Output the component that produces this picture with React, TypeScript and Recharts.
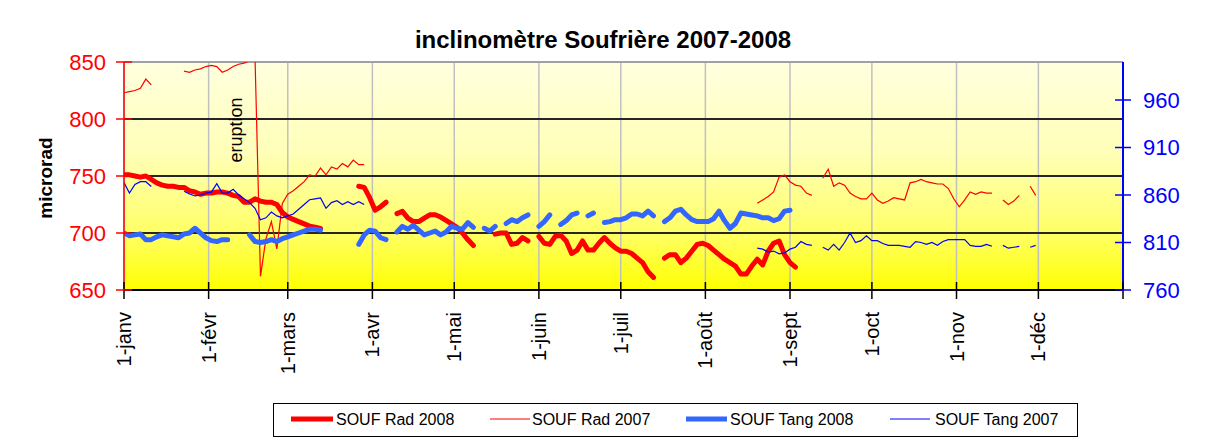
import React from "react";
import { LineChart, Line, XAxis, YAxis, CartesianGrid, ReferenceLine } from "recharts";

const FONT = "'Liberation Sans', Arial, sans-serif";

// jour de l'année (0 = 1er janvier), un point tous les 2 jours
const DAYS = Array.from({ length: 184 }, (_, i) => i * 2);

const MONTH_DAYS = [0, 31, 60, 91, 121, 152, 182, 213, 244, 274, 305, 335, 366];
const MONTH_LABELS = [
  "1-janv", "1-févr", "1-mars", "1-avr", "1-mai", "1-juin",
  "1-juil", "1-août", "1-sept", "1-oct", "1-nov", "1-déc", "",
];

const RAD_TICKS = [650, 700, 750, 800, 850];
const TANG_TICKS = [760, 810, 860, 910, 960];
const GRID_RAD = [700, 750, 800];

// SOUF Rad 2008 (microrad, axe gauche) - 10 valeurs par ligne = 20 jours
const radSouf2008 = [
  751, 751, 750, 749, 750, 747, 744, 742, 741, 741,
  740, 740, 737, 736, 734, 735, 735, 736, 736, 735,
  733, 732, 727, 727, 730, 728, 727, 727, 725, 718,
  714, 712, 710, 708, 706, 705, 704, null, null, null,
  null, null, null, 741, 740, 731, 720, 723, 727, null,
  717, 719, 713, 710, 710, 713, 716, 716, 714, 711,
  708, 705, 700, 694, 689, null, null, null, 699, 700,
  700, 690, 691, 696, 693, null, 697, 691, 690, 697,
  698, 693, 682, 685, 693, 685, 685, 691, 696, 691,
  687, 684, 684, 682, 678, 674, 666, 661, null, 678,
  681, 681, 674, 678, 684, 690, 691, 689, 685, 681,
  677, 674, 671, 664, 664, 671, 677, 672, 684, 691,
  693, 681, 674, 670,
];

// SOUF Rad 2007 (axe gauche)
const radSouf2007 = [
  823, 824, 825, 827, 835, 830, null, null, null, null,
  null, 842, 841, 843, 844, 846, 847, 846, 841, 843,
  846, 848, 849, 851, 854, 662, 695, 710, 686, 726,
  734, 737, 741, 745, 751, 750, 757, 751, 758, 756,
  761, 758, 764, 760, 760, null, null, null, null, null,
  null, null, null, null, null, null, null, null, null, null,
  null, null, null, null, null, null, null, null, null, null,
  null, null, null, null, null, null, null, null, null, null,
  null, null, null, null, null, null, null, null, null, null,
  null, null, null, null, null, null, null, null, null, null,
  null, null, null, null, null, null, null, null, null, null,
  null, null, null, null, null, null, 726, 729, 732, 736,
  749, 751, 745, 742, 741, 735, 733, null, 748, 756,
  741, 744, 742, 735, 732, 730, 730, 735, 729, 726,
  728, 731, 730, 729, 744, 745, 747, 745, 744, 743,
  743, 739, 730, 723, 729, 736, 734, 736, 735, 735,
  null, 729, 725, 728, 733, null, 741, 733,
];

// SOUF Tang 2008 (axe droit)
const tangSouf2008 = [
  820, 817, 818, 819, 813, 813, 816, 818, 817, 816,
  815, 819, 820, 825, 820, 815, 812, 811, 813, 813,
  null, null, null, 818, 811, 810, 811, 813, 811, 814,
  816, 818, 820, 822, 824, 824, 823, null, null, null,
  null, null, null, 808, 818, 823, 822, 815, 813, null,
  821, 827, 824, 828, 823, 818, 820, 822, 818, 821,
  827, 825, 824, 831, 826, null, 825, 822, 827, null,
  830, 834, 832, 836, 839, null, 827, 832, 839, null,
  829, 833, 839, 841, null, 838, 841, null, 831, 832,
  834, 834, 836, 840, 840, 838, 843, 838, null, 832,
  836, 843, 845, 839, 834, 832, 832, 832, 835, 843,
  833, 825, 830, 841, 840, 839, 838, 836, 836, 833,
  835, 843, 844,
];

// SOUF Tang 2007 (axe droit)
const tangSouf2007 = [
  873, 862, 871, 874, 874, 869, null, null, null, null,
  null, 864, 861, 859, 860, 862, 863, 872, 862, 862,
  866, 860, 856, 852, 846, 834, 836, 842, 838, 836,
  838, 840, 845, 850, 855, 856, 857, 846, 852, 854,
  850, 853, 850, 853, 850, null, null, null, null, null,
  null, null, null, null, null, null, null, null, null, null,
  null, null, null, null, null, null, null, null, null, null,
  null, null, null, null, null, null, null, null, null, null,
  null, null, null, null, null, null, null, null, null, null,
  null, null, null, null, null, null, null, null, null, null,
  null, null, null, null, null, null, null, null, null, null,
  null, null, null, null, null, null, 804, 803, 800, 801,
  798, 799, 803, 805, 811, 808, 807, null, 805, 802,
  808, 802, 810, 820, 810, 812, 817, 812, 812, 809,
  807, 807, 807, 806, 805, 811, 810, 808, 810, 807,
  811, 813, 813, 813, 813, 807, 806, 806, 808, 806,
  null, 807, 804, 805, 806, null, 805, 807,
];

const Y_TICK = 8;
const Y_GAP_L = 10;
const Y_GAP_R = 12;
const X_TICK = 9;
const X_GAP = 13;

function RadTick({ x, y, payload }: any) {
  const ax = x + Y_TICK + Y_GAP_L;
  return (
    <g>
      <line x1={ax - 8} x2={ax + 8} y1={y} y2={y} stroke="#FF0000" strokeWidth={1.5} />
      <text x={x} y={y} dy="0.36em" textAnchor="end" fill="#FF0000" fontSize={22}>
        {payload.value}
      </text>
    </g>
  );
}

function TangTick({ x, y, payload }: any) {
  const ax = x - Y_TICK - Y_GAP_R;
  return (
    <g>
      <line x1={ax - 8} x2={ax + 8} y1={y} y2={y} stroke="#0000FF" strokeWidth={1.5} />
      <text x={x} y={y} dy="0.36em" textAnchor="start" fill="#0000FF" fontSize={22}>
        {payload.value}
      </text>
    </g>
  );
}

function MonthTick({ x, y, payload }: any) {
  const label = MONTH_LABELS[MONTH_DAYS.indexOf(payload.value)] ?? "";
  const ay = y - X_TICK - X_GAP;
  return (
    <g>
      <line x1={x} x2={x} y1={ay - 8} y2={ay + 9} stroke="#000" strokeWidth={1.5} />
      <text
        x={x}
        y={y}
        dy="0.35em"
        textAnchor="end"
        transform={`rotate(-90 ${x} ${y})`}
        fill="#000"
        fontSize={20}
      >
        {label}
      </text>
    </g>
  );
}

export default function App() {
  const rows = DAYS.map((day, i) => ({
    day,
    rad08: radSouf2008[i] ?? null,
    rad07: radSouf2007[i] ?? null,
    tang08: tangSouf2008[i] ?? null,
    tang07: tangSouf2007[i] ?? null,
  }));

  return (
    <div style={{ position: "relative", width: 1192, height: 433, fontFamily: FONT, background: "#fff" }}>
      <LineChart width={1192} height={428} data={rows} margin={{ top: 54, right: 0, bottom: 0, left: 0 }}>
        <defs>
          <linearGradient id="plotBg" x1="0" y1="0" x2="0" y2="1">
            <stop offset="0%" stopColor="#FFFFE0" />
            <stop offset="40%" stopColor="#FFFFB8" />
            <stop offset="75%" stopColor="#FFFF66" />
            <stop offset="100%" stopColor="#FFFF00" />
          </linearGradient>
        </defs>
        <CartesianGrid
          yAxisId="rad"
          horizontal={false}
          stroke="#C0C0C0"
          strokeWidth={1.5}
          fill="url(#plotBg)"
          fillOpacity={1}
        />
        {GRID_RAD.map((v) => (
          <ReferenceLine key={v} yAxisId="rad" y={v} stroke="#262626" strokeWidth={2} />
        ))}
        <ReferenceLine yAxisId="rad" y={850} stroke="#A0A0A0" strokeWidth={2} />
        <XAxis
          dataKey="day"
          type="number"
          domain={[0, 366]}
          ticks={MONTH_DAYS}
          interval={0}
          allowDataOverflow
          height={146}
          axisLine={{ stroke: "#000", strokeWidth: 2 }}
          tickLine={false}
          tickSize={X_TICK}
          tickMargin={X_GAP}
          tick={(p: any) => <MonthTick {...p} />}
        />
        <YAxis
          yAxisId="rad"
          domain={[650, 850]}
          ticks={RAD_TICKS}
          allowDataOverflow
          width={116}
          axisLine={{ stroke: "#FF0000", strokeWidth: 1.5 }}
          tickLine={false}
          tickSize={Y_TICK}
          tickMargin={Y_GAP_L}
          tick={(p: any) => <RadTick {...p} />}
        />
        <YAxis
          yAxisId="tang"
          orientation="right"
          domain={[760, 1000]}
          ticks={TANG_TICKS}
          allowDataOverflow
          width={77}
          axisLine={{ stroke: "#0000FF", strokeWidth: 2 }}
          tickLine={false}
          tickSize={Y_TICK}
          tickMargin={Y_GAP_R}
          tick={(p: any) => <TangTick {...p} />}
        />
        <Line yAxisId="rad" dataKey="rad08" stroke="#FF0000" strokeWidth={5} strokeLinejoin="round" strokeLinecap="round" dot={false} activeDot={false} isAnimationActive={false} />
        <Line yAxisId="rad" dataKey="rad07" stroke="#FF0000" strokeWidth={1.2} dot={false} activeDot={false} isAnimationActive={false} />
        <Line yAxisId="tang" dataKey="tang08" stroke="#3366FF" strokeWidth={5} strokeLinejoin="round" strokeLinecap="round" dot={false} activeDot={false} isAnimationActive={false} />
        <Line yAxisId="tang" dataKey="tang07" stroke="#0000FF" strokeWidth={1.2} dot={false} activeDot={false} isAnimationActive={false} />
      </LineChart>

      <svg width={1192} height={433} style={{ position: "absolute", left: 0, top: 0, pointerEvents: "none" }}>
        <text x={595} y={40} textAnchor="middle" fontWeight="bold" fontSize={24} fill="#000">
          inclinomètre Soufrière 2007-2008
        </text>
        <text x={37} y={170} dy="0.35em" textAnchor="middle" fontWeight="bold" fontSize={19} fill="#000" transform="rotate(-90 37 170)">
          microrad
        </text>
        <text x={228} y={122} dy="0.35em" textAnchor="middle" fontSize={18} fill="#000" transform="rotate(-90 228 122)">
          eruption
        </text>
        <rect x={265.5} y={395.5} width={804} height={33} fill="#fff" stroke="#000" strokeWidth={1} />
        <line x1={283} x2={325} y1={411} y2={411} stroke="#FF0000" strokeWidth={5} />
        <text x={328} y={411} dy="0.35em" fontSize={16} fill="#000">SOUF Rad 2008</text>
        <line x1={482} x2={522} y1={411} y2={411} stroke="#FF0000" strokeWidth={1.2} />
        <text x={524} y={411} dy="0.35em" fontSize={16} fill="#000">SOUF Rad 2007</text>
        <line x1={678} x2={719} y1={411} y2={411} stroke="#3366FF" strokeWidth={5} />
        <text x={722} y={411} dy="0.35em" fontSize={16} fill="#000">SOUF Tang 2008</text>
        <line x1={882} x2={922} y1={411} y2={411} stroke="#0000FF" strokeWidth={1.2} />
        <text x={927} y={411} dy="0.35em" fontSize={16} fill="#000">SOUF Tang 2007</text>
      </svg>
    </div>
  );
}
